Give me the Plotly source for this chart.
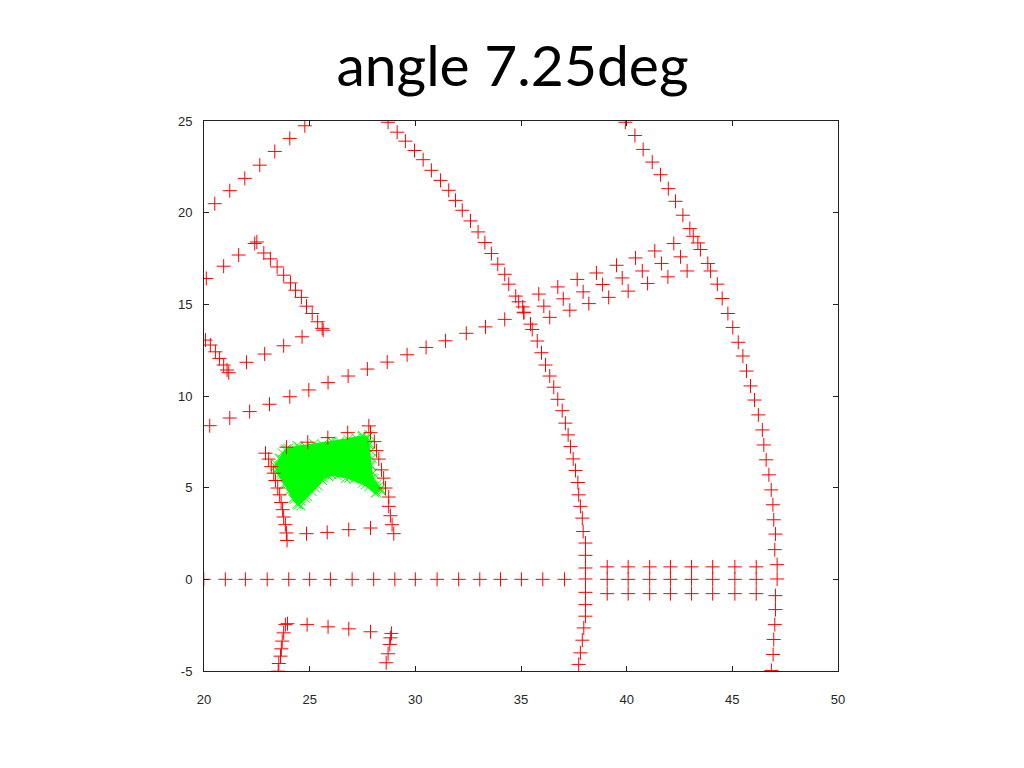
import plotly.graph_objects as go

# ---------------- data ----------------
arc_tl_x = [20.51, 21.22, 21.93, 22.64, 23.35, 24.06, 24.77]
arc_tl_y = [20.49, 21.20, 21.87, 22.59, 23.34, 24.05, 24.74]

wall_a_x = [20.11, 20.93, 21.64, 22.40, 22.50, 22.83, 23.14, 23.46, 23.77, 24.09,
            24.33, 24.61, 24.85, 25.12, 25.38, 25.59, 25.64]
wall_a_y = [16.41, 17.08, 17.69, 18.32, 18.40, 17.80, 17.48, 17.04, 16.59, 16.17,
            15.77, 15.38, 14.90, 14.50, 14.05, 13.69, 13.59]

wall_b_x = [20.07, 20.30, 20.54, 20.73, 20.93, 21.09, 21.17]
wall_b_y = [13.05, 12.78, 12.41, 12.05, 11.69, 11.42, 11.27]

wall_c_x = [22.01, 22.87, 23.77, 24.64]
wall_c_y = [11.84, 12.29, 12.74, 13.23]

diag_x = [20.27, 21.22, 22.16, 23.10, 24.06, 24.96, 25.87, 26.82, 27.73, 28.67,
          29.61, 30.51, 31.43, 32.41, 33.32, 34.23, 35.14, 36.08, 37.00, 37.94,
          38.86, 39.79, 40.74, 41.65, 42.55]
diag_y = [8.38, 8.80, 9.15, 9.55, 9.96, 10.33, 10.73, 11.09, 11.47, 11.85,
          12.25, 12.65, 13.01, 13.42, 13.77, 14.18, 14.57, 14.90, 15.30, 15.68,
          16.08, 16.44, 16.82, 17.23, 17.59]

upper_x = [35.84, 36.74, 37.66, 38.57, 39.52, 40.42, 41.33, 42.23]
upper_y = [15.56, 15.95, 16.36, 16.71, 17.13, 17.53, 17.91, 18.32]

lower_x = [36.36, 37.31, 38.21, 39.15, 40.07, 40.99, 41.95, 42.86]
lower_y = [14.29, 14.68, 15.04, 15.38, 15.72, 16.14, 16.50, 16.82]

mid_arc_x = [28.71, 29.14, 29.53, 29.96, 30.37, 30.76, 31.19, 31.58, 31.90, 32.22,
             32.61, 32.97, 33.29, 33.60, 33.90, 34.23, 34.42, 34.75, 34.89, 35.08,
             35.13, 35.45, 35.53, 35.77, 35.97, 36.16, 36.36, 36.55, 36.74, 36.95,
             37.10, 37.23, 37.34, 37.47, 37.58, 37.69, 37.73, 37.81, 37.90, 37.94,
             38.05, 38.05, 38.05, 38.05, 38.05, 38.05, 38.05, 37.97, 37.90, 37.81,
             37.73]
mid_arc_y = [24.93, 24.39, 23.90, 23.39, 22.89, 22.31, 21.76, 21.22, 20.67, 20.13,
             19.55, 18.95, 18.37, 17.77, 17.19, 16.64, 16.10, 15.45, 15.14, 14.86,
             14.54, 13.92, 13.63, 13.00, 12.36, 11.69, 11.09, 10.48, 9.82, 9.20,
             8.52, 7.88, 7.24, 6.57, 5.94, 5.28, 4.61, 3.98, 3.34, 2.61,
             1.98, 1.31, 0.62, 0.02, -0.71, -1.38, -2.01, -2.65, -3.32, -4.01,
             -4.64]

out_arc_x = [39.94, 40.39, 40.78, 41.21, 41.60, 41.97, 42.31, 42.66, 42.99, 43.15,
             43.37, 43.49, 43.84, 43.97, 44.29, 44.52, 44.79, 45.02, 45.28, 45.50,
             45.67, 45.86, 46.05, 46.23, 46.42, 46.49, 46.60, 46.73, 46.84, 46.92,
             46.96, 47.04, 47.01, 47.12, 47.12, 47.04, 47.04, 47.01, 46.96, 46.93,
             46.85]
out_arc_y = [24.93, 24.21, 23.45, 22.76, 22.07, 21.31, 20.62, 19.86, 19.13, 18.71,
             18.35, 17.99, 17.23, 16.82, 16.10, 15.32, 14.50, 13.74, 12.93, 12.18,
             11.36, 10.55, 9.78, 8.97, 8.15, 7.33, 6.52, 5.70, 4.88, 4.07,
             3.25, 2.47, 1.62, 0.80, 0.02, -0.89, -1.65, -2.47, -3.28, -4.10,
             -4.97]

floor_x = [19.99, 21.01, 21.96, 22.99, 24.01, 25.00, 25.98, 27.01, 28.03, 29.03,
           30.00, 31.03, 32.05, 33.05, 34.03, 35.02, 36.03, 37.06]
floor_y = [0.0] * 18

rows_x = [39.08, 40.07, 41.09, 42.07, 43.07, 44.07, 45.12, 46.13]
row_top_y = [0.68] * 8
row_mid_y = [0.0] * 8
row_bot_y = [-0.78] * 8

box1_left_x = [22.91, 23.06, 23.18, 23.30, 23.38, 23.49, 23.58, 23.65, 23.72, 23.77, 23.85, 23.90, 23.93]
box1_left_y = [6.88, 6.56, 6.15, 5.79, 5.39, 4.98, 4.61, 4.19, 3.80, 3.40, 2.98, 2.53, 2.12]
box1_top_x = [23.90, 24.91, 25.86, 26.80, 27.80, 27.88]
box1_top_y = [7.21, 7.48, 7.73, 8.00, 8.37, 8.00]
box1_right_x = [28.06, 28.16, 28.27, 28.40, 28.50, 28.59, 28.74, 28.74, 28.82, 28.90, 28.98]
box1_right_y = [7.51, 7.02, 6.56, 5.97, 5.52, 4.98, 4.49, 3.98, 3.47, 2.98, 2.49]
box1_bot_x = [24.85, 25.83, 26.85, 27.88]
box1_bot_y = [2.49, 2.56, 2.71, 2.80]

box2_left_x = [23.95, 23.85, 23.77, 23.70, 23.66, 23.62, 23.54, 23.51]
box2_left_y = [-2.42, -2.47, -2.92, -3.37, -3.79, -4.19, -4.59, -5.01]
box2_row_x = [24.88, 25.87, 26.85, 27.88]
box2_row_y = [-2.47, -2.59, -2.70, -2.86]
box2_right_x = [28.87, 28.82, 28.79, 28.71, 28.62]
box2_right_y = [-2.95, -3.19, -3.55, -4.06, -4.55]

# particle cloud (green): outline of the dense core and stray particles at its edge
blob_x = [23.89, 24.48, 26.06, 27.48, 27.72, 27.80, 27.88, 27.96, 28.27, 28.35,
          28.11, 27.64, 26.85, 26.06, 25.67, 25.27, 24.80, 24.48, 24.25, 23.85,
          23.54, 23.38, 23.62, 23.85]
blob_y = [7.12, 7.24, 7.51, 7.79, 7.70, 7.33, 6.25, 5.52, 5.06, 4.88,
          4.70, 5.16, 5.52, 5.70, 5.52, 4.98, 4.43, 4.07, 4.34, 5.16,
          5.70, 6.15, 6.61, 7.06]
particle_x = [24.0, 24.4, 24.8, 25.2, 25.6, 26.0, 26.4, 26.8, 27.2, 27.5, 27.75,
              27.85, 27.9, 27.95, 27.9, 28.0, 28.05, 28.2, 28.35, 28.15,
              27.8, 27.5, 27.1, 26.7, 26.3, 25.9, 25.6, 25.4, 25.1, 24.9, 24.6, 24.4, 24.2, 24.0,
              23.8, 23.6, 23.45, 23.4, 23.55, 23.7,
              24.6, 28.4, 23.35, 27.8]
particle_y = [7.15, 7.3, 7.25, 7.4, 7.35, 7.55, 7.5, 7.65, 7.7, 7.85, 7.75,
              7.4, 7.0, 6.6, 6.2, 5.8, 5.5, 5.2, 4.95, 4.75,
              5.05, 5.25, 5.45, 5.5, 5.65, 5.6, 5.4, 5.1, 4.8, 4.5, 4.25, 4.1, 4.4, 4.8,
              5.2, 5.6, 6.0, 6.3, 6.6, 6.9,
              4.0, 4.8, 6.2, 7.9]

x_ticks = [20, 25, 30, 35, 40, 45, 50]
y_ticks = [-5, 0, 5, 10, 15, 20, 25]
y_tick_text = ["-5", "0", "5", "10", "15", "20", "25"]
title_text = "angle 7.25deg"

# ---------------- figure ----------------
red_sets = [
    (arc_tl_x, arc_tl_y), (wall_a_x, wall_a_y), (wall_b_x, wall_b_y), (wall_c_x, wall_c_y),
    (diag_x, diag_y), (upper_x, upper_y), (lower_x, lower_y),
    (mid_arc_x, mid_arc_y), (out_arc_x, out_arc_y),
    (floor_x, floor_y), (rows_x, row_top_y), (rows_x, row_mid_y), (rows_x, row_bot_y),
    (box1_left_x, box1_left_y), (box1_top_x, box1_top_y), (box1_right_x, box1_right_y),
    (box1_bot_x, box1_bot_y), (box2_left_x, box2_left_y), (box2_row_x, box2_row_y),
    (box2_right_x, box2_right_y),
]

fig = go.Figure()

GREEN = "#00ff00"
RED = "#ff0000"
fig.add_trace(go.Scatter(x=blob_x, y=blob_y, mode="lines", fill="toself",
                         fillcolor=GREEN, line=dict(color=GREEN, width=2),
                         hoverinfo="skip", showlegend=False))
fig.add_trace(go.Scatter(x=particle_x, y=particle_y, mode="markers",
                         marker=dict(symbol="x-thin", size=9, color=GREEN,
                                     line=dict(color=GREEN, width=1)),
                         showlegend=False))
fig.add_trace(go.Scatter(x=blob_x, y=blob_y, mode="markers",
                         marker=dict(symbol="x-thin", size=9, color=GREEN,
                                     line=dict(color=GREEN, width=1)),
                         showlegend=False))

for xs, ys in red_sets:
    fig.add_trace(go.Scatter(x=xs, y=ys, mode="markers",
                             marker=dict(symbol="cross-thin", size=10, color=RED,
                                         line=dict(color=RED, width=1)),
                             showlegend=False))

axis_common = dict(showline=True, linecolor="#222222", linewidth=1, mirror="ticks",
                   ticks="inside", ticklen=5, tickcolor="#222222", tickwidth=1,
                   showgrid=False, zeroline=False,
                   tickfont=dict(family="Liberation Sans, Arial, sans-serif", size=13, color="#262626"))

W, H = 1016, 760  # page body has an 8px margin
fig.update_layout(
    width=W, height=H, autosize=False,
    paper_bgcolor="white", plot_bgcolor="white",
    margin=dict(l=196, r=186, t=113, b=97),
    title=dict(text=title_text, x=504.5 / W, xanchor="center", xref="container",
               y=1 - 58 / H, yanchor="middle", yref="container",
               font=dict(family="Lato, Open Sans, sans-serif", size=57, color="black")),
    xaxis=dict(range=[20, 50], tickvals=x_ticks, ticktext=[str(v) for v in x_ticks],
               ticklabelstandoff=16, **axis_common),
    yaxis=dict(range=[-5, 25], tickvals=y_ticks, ticktext=y_tick_text,
               ticklabelstandoff=8, **axis_common),
)

fig.write_html("out.html")
